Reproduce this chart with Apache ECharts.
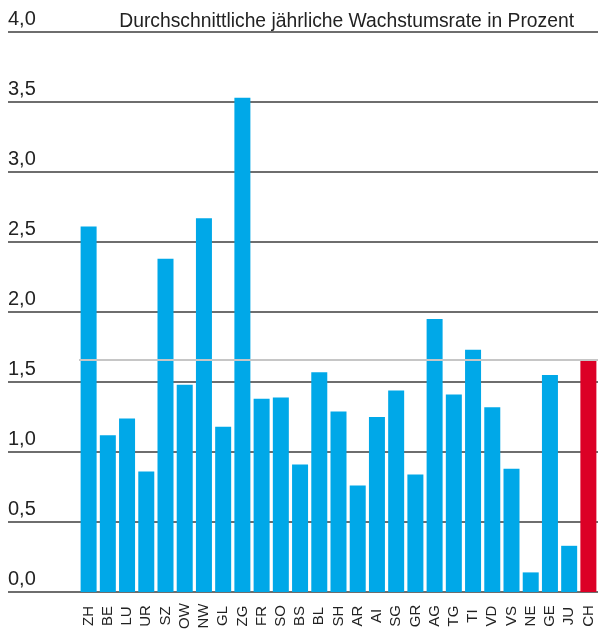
<!DOCTYPE html>
<html>
<head>
<meta charset="utf-8">
<style>
html, body {
  margin: 0;
  padding: 0;
  background: #fff;
}
#chart {
  width: 598px;
  height: 632px;
}
</style>
<script src="https://cdn.jsdelivr.net/npm/echarts@6/dist/echarts.min.js"></script>
</head>
<body>
<div id="chart"></div>
<script>
// Kantone, durchschnittliche jaehrliche Wachstumsrate in Prozent
const cantons = ['ZH', 'BE', 'LU', 'UR', 'SZ', 'OW', 'NW', 'GL', 'ZG', 'FR', 'SO', 'BS', 'BL', 'SH',
  'AR', 'AI', 'SG', 'GR', 'AG', 'TG', 'TI', 'VD', 'VS', 'NE', 'GE', 'JU', 'CH']
const rates = [2.61, 1.12, 1.24, 0.86, 2.38, 1.48, 2.67, 1.18, 3.53, 1.38, 1.39, 0.91, 1.57, 1.29,
  0.76, 1.25, 1.44, 0.84, 1.95, 1.41, 1.73, 1.32, 0.88, 0.14, 1.55, 0.33, 1.65]
const average = 1.66
const yTicks = [0, 0.5, 1, 1.5, 2, 2.5, 3, 3.5, 4]

const titleText = 'Durchschnittliche jährliche Wachstumsrate in Prozent'
const font = '"Liberation Sans", Arial, sans-serif'

const chart = echarts.init(document.getElementById('chart'))

const option = {
  animation: false,
  title: {
    text: titleText,
    right: 19,
    top: 7,
    textStyle: {
      color: '#222',
      fontWeight: 'normal',
      fontSize: 19.3,
      fontFamily: font
    }
  },
  grid: [
    // balken
    { left: 79, width: 522, top: 32, bottom: 40 },
    // gitterlinien ueber die ganze breite
    { left: 8, right: 0, top: 32, bottom: 40 }
  ],
  xAxis: [
    {
      type: 'category',
      gridIndex: 0,
      data: cantons,
      axisTick: { show: false },
      axisLine: { show: false },
      axisLabel: {
        interval: 0,
        rotate: 90,
        align: 'center',
        verticalAlign: 'middle',
        margin: 24,
        color: '#222',
        fontSize: 15,
        fontFamily: font
      }
    },
    {
      type: 'value',
      gridIndex: 1,
      show: false
    }
  ],
  yAxis: [
    {
      type: 'value',
      gridIndex: 0,
      min: 0,
      max: 4,
      interval: 0.5,
      show: false
    },
    {
      type: 'value',
      gridIndex: 1,
      min: 0,
      max: 4,
      interval: 0.5,
      axisLine: { show: false },
      axisTick: { show: false },
      splitLine: {
        lineStyle: { color: '#6e6e6e', width: 2 }
      },
      axisLabel: {
        inside: true,
        margin: 0,
        align: 'left',
        verticalAlign: 'bottom',
        padding: [0, 0, 3, 0],
        color: '#222',
        fontSize: 20,
        fontFamily: font,
        formatter: v => yTicks.includes(v) ? v.toFixed(1).replace('.', ',') : ''
      }
    }
  ],
  series: [
    {
      type: 'bar',
      xAxisIndex: 0,
      yAxisIndex: 0,
      barWidth: 16,
      itemStyle: { color: '#00a8e8' },
      data: cantons.map((c, i) => c === 'CH'
        ? { value: rates[i], itemStyle: { color: '#dc0026' } }
        : rates[i]),
      markLine: {
        silent: true,
        symbol: 'none',
        label: { show: false },
        lineStyle: { color: '#c6c6c6', width: 2, type: 'solid' },
        data: [{ yAxis: average }]
      }
    }
  ]
}

chart.setOption(option)
</script>
</body>
</html>
